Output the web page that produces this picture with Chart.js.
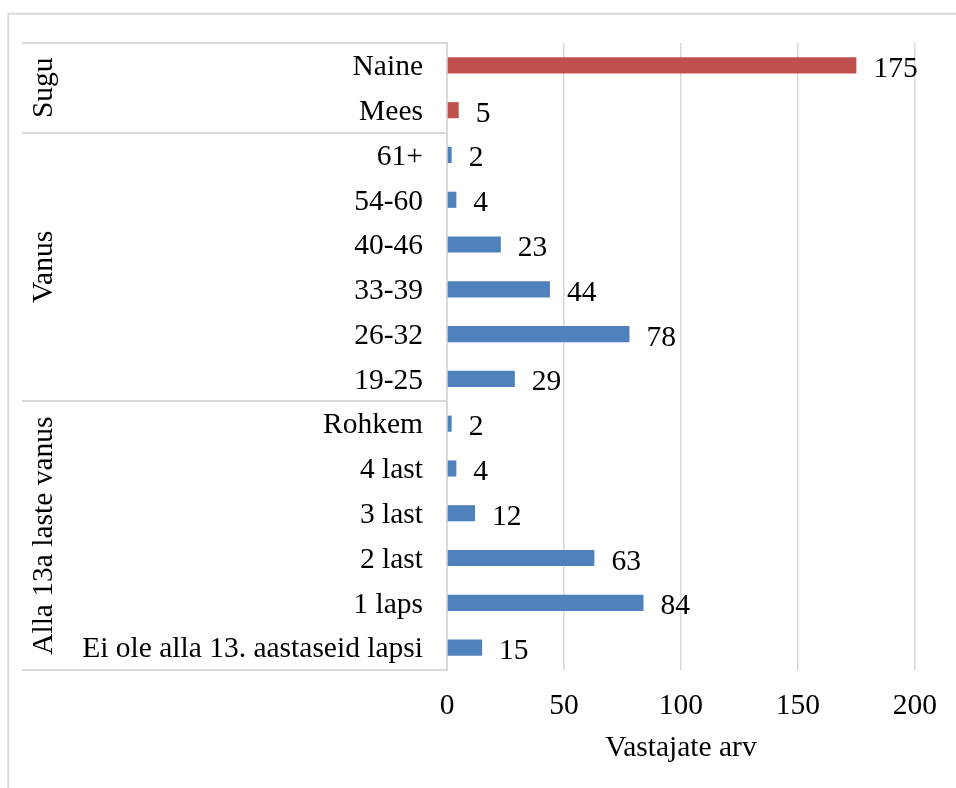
<!DOCTYPE html>
<html lang="et">
<head>
<meta charset="utf-8">
<title>Vastajate arv</title>
<script src="https://cdn.jsdelivr.net/npm/chart.js@4.4.1/dist/chart.umd.min.js"></script>
<style>
  html, body { margin: 0; padding: 0; background: #ffffff; }
  #wrap { width: 956px; height: 788px; position: relative; }
</style>
</head>
<body>
<div id="wrap"><canvas id="chart" width="956" height="788"></canvas></div>
<script>
// Group names (outer level of the category axis)
const groups = ['Sugu', 'Vanus', 'Alla 13a laste vanus'];

// Categories and counts per group, listed top to bottom
const suguLabels = ['Naine', 'Mees'];
const suguValues = [175, 5];

const vanusLabels = ['61+', '54-60', '40-46', '33-39', '26-32', '19-25'];
const vanusValues = [2, 4, 23, 44, 78, 29];

const lapsedLabels = ['Rohkem', '4 last', '3 last', '2 last', '1 laps', 'Ei ole alla 13. aastaseid lapsi'];
const lapsedValues = [2, 4, 12, 63, 84, 15];

// Value axis ticks
const xTicks = [0, 50, 100, 150, 200];
const xTitle = 'Vastajate arv';

const RED = '#C0504D';
const BLUE = '#4F81BD';
const GRID = '#d9d9d9';
const FONT = '"Liberation Serif", "Times New Roman", serif';
const FS = 29.5;

const groupMembers = [suguLabels, vanusLabels, lapsedLabels];
const labels = [].concat(suguLabels, vanusLabels, lapsedLabels);
const values = [].concat(suguValues, vanusValues, lapsedValues);
const colors = [].concat(
  suguLabels.map(() => RED),
  vanusLabels.map(() => BLUE),
  lapsedLabels.map(() => BLUE)
);

// Outer frame of the chart
const framePlugin = {
  id: 'frame',
  beforeDraw(chart) {
    const ctx = chart.ctx;
    ctx.save();
    ctx.fillStyle = '#ffffff';
    ctx.fillRect(0, 0, chart.width, chart.height);
    ctx.strokeStyle = GRID;
    ctx.lineWidth = 2;
    ctx.strokeRect(8.3, 13.7, chart.width + 40, chart.height + 40);
    ctx.restore();
  }
};

// Group labels and separators of the two-level category axis
const groupAxisPlugin = {
  id: 'groupAxis',
  afterDraw(chart) {
    const ctx = chart.ctx;
    const y = chart.scales.y;
    const area = chart.chartArea;
    const left = 22;
    ctx.save();
    ctx.strokeStyle = GRID;
    ctx.lineWidth = 2;
    let start = 0;
    const bounds = [area.top];
    groupMembers.forEach((members) => {
      const end = start + members.length - 1;
      const bottom = end === labels.length - 1
        ? area.bottom
        : (y.getPixelForValue(end) + y.getPixelForValue(end + 1)) / 2;
      bounds.push(bottom);
      start = end + 1;
    });
    bounds.forEach((b) => {
      ctx.beginPath();
      ctx.moveTo(left, Math.round(b));
      ctx.lineTo(area.left, Math.round(b));
      ctx.stroke();
    });
    ctx.fillStyle = '#000000';
    ctx.font = FS + 'px ' + FONT;
    ctx.textAlign = 'center';
    ctx.textBaseline = 'alphabetic';
    groups.forEach((g, i) => {
      const cy = (bounds[i] + bounds[i + 1]) / 2;
      ctx.save();
      ctx.translate(52, cy);
      ctx.rotate(-Math.PI / 2);
      ctx.fillText(g, 0, 0);
      ctx.restore();
    });
    ctx.restore();
  }
};

// Value labels right of each bar
const valueLabelPlugin = {
  id: 'valueLabels',
  afterDatasetsDraw(chart) {
    const ctx = chart.ctx;
    const meta = chart.getDatasetMeta(0);
    const data = chart.data.datasets[0].data;
    ctx.save();
    ctx.fillStyle = '#000000';
    ctx.font = FS + 'px ' + FONT;
    ctx.textAlign = 'left';
    ctx.textBaseline = 'alphabetic';
    meta.data.forEach((bar, i) => {
      ctx.fillText(String(data[i]), bar.x + 17, bar.y + 11.5);
    });
    ctx.restore();
  }
};

new Chart(document.getElementById('chart'), {
  type: 'bar',
  data: {
    labels: labels,
    datasets: [{
      data: values,
      backgroundColor: colors,
      borderWidth: 0,
      categoryPercentage: 1.0,
      barPercentage: 0.36
    }]
  },
  options: {
    indexAxis: 'y',
    responsive: false,
    animation: false,
    devicePixelRatio: 1,
    layout: { padding: { top: 43, right: 38, left: 0, bottom: 0 } },
    plugins: {
      legend: { display: false },
      tooltip: { enabled: false },
      title: { display: false }
    },
    scales: {
      x: {
        type: 'linear',
        min: xTicks[0],
        max: xTicks[xTicks.length - 1],
        afterBuildTicks(scale) { scale.ticks = xTicks.map(v => ({ value: v })); },
        afterFit(scale) { scale.height = 118; },
        grid: { display: true, color: GRID, lineWidth: 1.5, drawTicks: false },
        border: { display: false },
        ticks: {
          color: '#000000',
          padding: 19,
          font: { family: FONT, size: FS }
        },
        title: {
          display: true,
          text: xTitle,
          color: '#000000',
          padding: { top: 0, bottom: 22 },
          font: { family: FONT, size: FS }
        }
      },
      y: {
        type: 'category',
        afterFit(scale) { scale.width = 447; },
        grid: { display: false, drawTicks: false },
        border: { display: true, color: GRID, width: 2 },
        ticks: {
          color: '#000000',
          padding: 24,
          labelOffset: 2,
          autoSkip: false,
          font: { family: FONT, size: FS }
        }
      }
    }
  },
  plugins: [framePlugin, groupAxisPlugin, valueLabelPlugin]
});
</script>
</body>
</html>
